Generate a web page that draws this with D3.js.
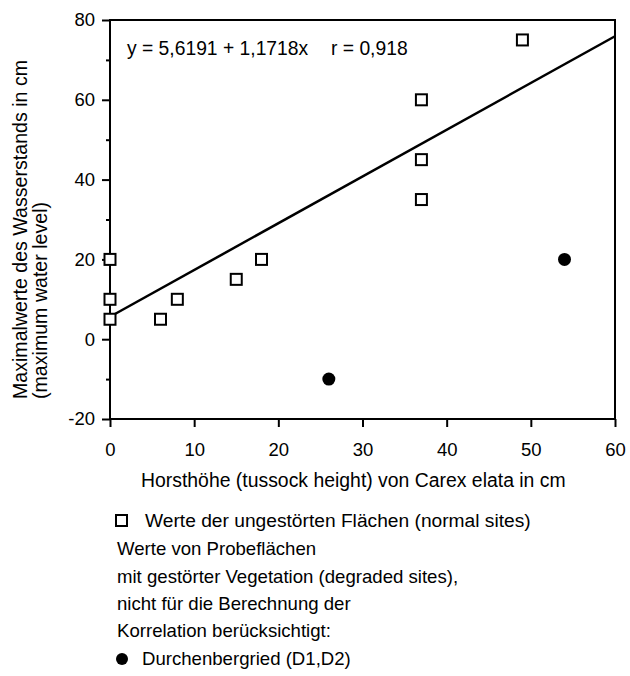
<!DOCTYPE html>
<html><head><meta charset="utf-8">
<script src="https://cdn.jsdelivr.net/npm/d3@7"></script>
<style>
html,body{margin:0;padding:0;background:#fff;}
svg{display:block;font-family:"Liberation Sans",Arial,Helvetica,sans-serif;}
</style></head>
<body>
<svg id="chart" width="630" height="676"></svg>
<script>
// Data
const normalX = [0, 0, 0, 6, 8, 15, 18, 37, 37, 37, 49];
const normalY = [20, 10, 5, 5, 10, 15, 20, 60, 45, 35, 75];
const degradedX = [26, 54];
const degradedY = [-10, 20];
const intercept = 5.6191, slope = 1.1718;
const xTicks = [0, 10, 20, 30, 40, 50, 60];
const yTicks = [-20, 0, 20, 40, 60, 80];
const yMinorTicks = [-10, 10, 30, 50, 70];
const equationText = "y = 5,6191 + 1,1718x";
const rText = "r = 0,918";
const xTitle = "Horsthöhe (tussock height) von Carex elata in cm";
const yTitle1 = "Maximalwerte des Wasserstands in cm";
const yTitle2 = "(maximum water level)";
const legendLines = [
  "Werte der ungestörten Flächen (normal sites)",
  "Werte von Probeflächen",
  "mit gestörter Vegetation (degraded sites),",
  "nicht für die Berechnung der",
  "Korrelation berücksichtigt:",
  "Durchenbergried (D1,D2)"
];

const svg = d3.select("#chart");
const x = d3.scaleLinear().domain([0, 60]).range([110, 615]);
const y = d3.scaleLinear().domain([-20, 80]).range([419, 20]);
const fmt = d => String(d); // plain hyphen minus as in the original

// frame
svg.append("rect").attr("x", x(0)).attr("y", y(80))
  .attr("width", x(60) - x(0)).attr("height", y(-20) - y(80))
  .attr("fill", "none").attr("stroke", "#000").attr("stroke-width", 2);

// x axis
const gx = svg.append("g").attr("transform", `translate(0,${y(-20)})`)
  .call(d3.axisBottom(x).tickValues(xTicks).tickSize(8).tickSizeOuter(0).tickPadding(16).tickFormat(fmt));
gx.select(".domain").remove();
gx.selectAll(".tick line").attr("stroke-width", 2);
gx.selectAll("text").attr("font-size", 18.5).attr("fill", "#000").attr("font-family", "Liberation Sans, Arial, sans-serif");

// y axis
const gy = svg.append("g").attr("transform", `translate(${x(0)},0)`)
  .call(d3.axisLeft(y).tickValues(yTicks).tickSize(8).tickSizeOuter(0).tickPadding(7).tickFormat(fmt));
gy.select(".domain").remove();
gy.selectAll(".tick line").attr("stroke-width", 2);
gy.selectAll("text").attr("font-size", 18.5).attr("fill", "#000").attr("font-family", "Liberation Sans, Arial, sans-serif");
const gym = svg.append("g").attr("transform", `translate(${x(0)},0)`)
  .call(d3.axisLeft(y).tickValues(yMinorTicks).tickSize(4).tickSizeOuter(0).tickFormat(""));
gym.select(".domain").remove();
gym.selectAll(".tick line").attr("stroke-width", 2);

// regression line
svg.append("line")
  .attr("x1", x(0)).attr("y1", y(intercept))
  .attr("x2", x(60)).attr("y2", y(intercept + slope * 60))
  .attr("stroke", "#000").attr("stroke-width", 2.5);

// equation text
svg.append("text").attr("x", 127).attr("y", 55).attr("font-size", 19.3).text(equationText);
svg.append("text").attr("x", 331).attr("y", 55).attr("font-size", 19.3).text(rText);

// normal points (open squares)
const sq = 11;
svg.append("g").selectAll("rect").data(normalX.map((d, i) => [d, normalY[i]])).join("rect")
  .attr("x", d => x(d[0]) - sq / 2).attr("y", d => y(d[1]) - sq / 2)
  .attr("width", sq).attr("height", sq)
  .attr("fill", "#fff").attr("stroke", "#000").attr("stroke-width", 2);

// degraded points (filled circles)
svg.append("g").selectAll("circle").data(degradedX.map((d, i) => [d, degradedY[i]])).join("circle")
  .attr("cx", d => x(d[0])).attr("cy", d => y(d[1])).attr("r", 6.5).attr("fill", "#000");

// axis titles
svg.append("text").attr("x", 141).attr("y", 487).attr("font-size", 19.4).text(xTitle);
svg.append("text").attr("transform", "translate(27,399) rotate(-90)").attr("font-size", 19.6).text(yTitle1);
svg.append("text").attr("transform", "translate(47,399) rotate(-90)").attr("font-size", 19.6).text(yTitle2);

// legend
const legY = [527, 555, 583, 610, 637, 665];
svg.append("rect").attr("x", 116).attr("y", legY[0] - 12).attr("width", 11).attr("height", 11)
  .attr("fill", "#fff").attr("stroke", "#000").attr("stroke-width", 2);
svg.append("circle").attr("cx", 122).attr("cy", legY[5] - 6).attr("r", 6).attr("fill", "#000");
legendLines.forEach((t, i) => {
  const lx = i === 0 ? 145 : (i === 5 ? 142 : 117);
  const fs = i === 0 ? 19.2 : 18.6;
  svg.append("text").attr("x", lx).attr("y", legY[i]).attr("font-size", fs).text(t);
});
</script>
</body></html>
